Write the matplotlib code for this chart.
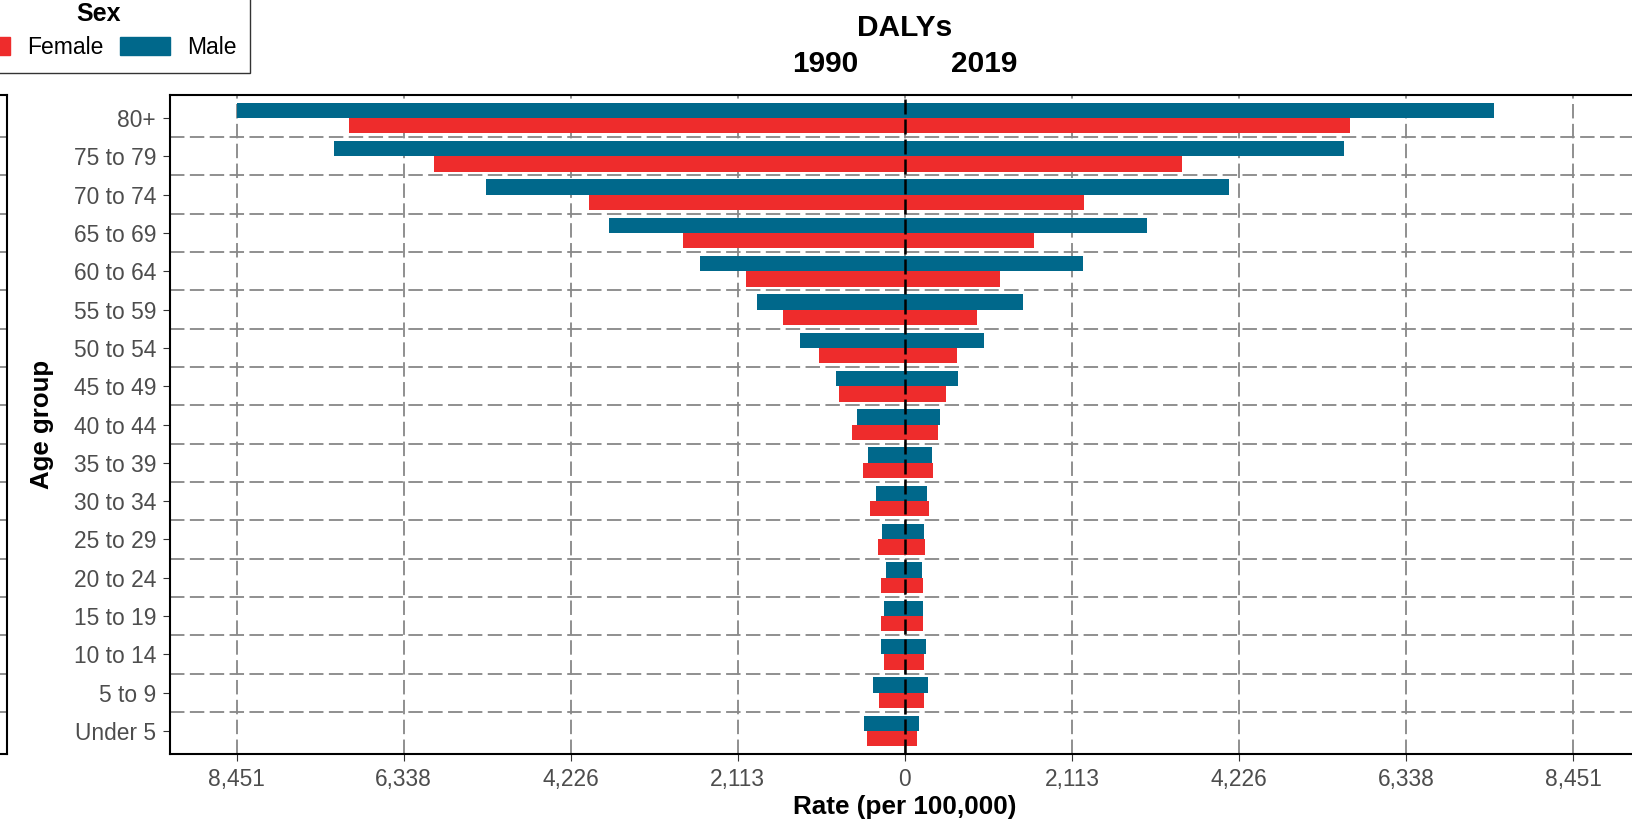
import numpy as np
import matplotlib
matplotlib.use("Agg")
import matplotlib.pyplot as plt
from matplotlib.patches import Patch

plt.rcParams['font.family'] = ['Liberation Sans', 'DejaVu Sans']

# age groups, bottom to top
age_groups = ["Under 5", "5 to 9", "10 to 14", "15 to 19", "20 to 24", "25 to 29",
              "30 to 34", "35 to 39", "40 to 44", "45 to 49", "50 to 54", "55 to 59",
              "60 to 64", "65 to 69", "70 to 74", "75 to 79", "80+"]

# DALYs rate per 100,000
male_1990 = [519, 405, 304, 266, 240, 291, 367, 468, 607, 873, 1328, 1872,
             2590, 3741, 5300, 7221, 8451]
female_1990 = [481, 329, 266, 304, 304, 342, 443, 531, 670, 835, 1088, 1543,
               2011, 2804, 3998, 5959, 7033]
male_2019 = [177, 291, 266, 228, 215, 240, 278, 342, 443, 670, 999, 1493,
             2251, 3061, 4098, 5553, 7450]
female_2019 = [152, 240, 240, 228, 228, 253, 304, 354, 417, 519, 658, 911,
               1202, 1632, 2264, 3504, 5629]

tick_vals = [-8451, -6338, -4226, -2113, 0, 2113, 4226, 6338, 8451]
tick_labels = ["8,451", "6,338", "4,226", "2,113", "0", "2,113", "4,226", "6,338", "8,451"]

male_col = "#00688B"
female_col = "#EE2C2C"
grid_col = "#878787"

W, H = 1633, 826
fig = plt.figure(figsize=(W / 100, H / 100), dpi=100)

ax = fig.add_axes([169.9 / W, 72 / H, 1470 / W, 659 / H])
y = np.arange(1, len(age_groups) + 1)

ax.barh(y + 0.2, -np.array(male_1990), height=0.4, color=male_col, zorder=3)
ax.barh(y + 0.2, male_2019, height=0.4, color=male_col, zorder=3)
ax.barh(y - 0.2, -np.array(female_1990), height=0.4, color=female_col, zorder=3)
ax.barh(y - 0.2, female_2019, height=0.4, color=female_col, zorder=3)

ax.axvline(0, color="black", lw=1.8, dashes=(6, 2), zorder=4)

ax.set_xlim(-9296, 9296)
ax.set_ylim(0.4, len(age_groups) + 0.6)

ax.set_xticks(tick_vals)
ax.set_xticklabels(tick_labels)
ax.set_yticks(y)
ax.set_yticklabels(age_groups)
ax.set_yticks(y[:-1] + 0.5, minor=True)
ax.tick_params(axis="both", which="major", length=5, width=0.8, color="#333333",
               labelcolor="#4d4d4d", labelsize=16.4, pad=5)
ax.tick_params(axis="y", which="minor", length=0)

ax.grid(axis="x", which="major", color=grid_col, lw=1.3, dashes=(8, 3), zorder=1)
ax.grid(axis="y", which="minor", color=grid_col, lw=1.3, dashes=(8, 3), zorder=1)
ax.set_axisbelow(True)
for s in ax.spines.values():
    s.set_linewidth(1.5)
    s.set_color("black")

ax.set_xlabel("Rate (per 100,000)", fontsize=18.8, fontweight="bold")
ax.xaxis.set_label_coords((905 - 169.9) / 1470, -0.0804)
ax.xaxis.label.set_va("center")
ax.set_ylabel("Age group", fontsize=18.6, fontweight="bold")
ax.yaxis.set_label_coords((42 - 169.9) / 1470, 0.5)
ax.yaxis.label.set_va("center")

# leftover panel cut at left edge
ax0 = fig.add_axes([-0.2, 72 / H, 0.2 + 7.3 / W, 659 / H])
ax0.set_ylim(0.4, len(age_groups) + 0.6)
ax0.set_yticks(y[:-1] + 0.5, minor=True)
ax0.set_yticks([])
ax0.set_xticks([])
ax0.grid(axis="y", which="minor", color=grid_col, lw=1.3, dashes=(8, 3))
for s in ax0.spines.values():
    s.set_linewidth(1.5)

# titles
fig.text(905 / W, 1 - 28.5 / H, "DALYs", ha="center", va="center",
         fontsize=21.5, fontweight="bold")
fig.text(825 / W, 1 - 64 / H, "1990", ha="center", va="center",
         fontsize=21.5, fontweight="bold")
fig.text(984.5 / W, 1 - 64 / H, "2019", ha="center", va="center",
         fontsize=21.5, fontweight="bold")

handles = [Patch(color=female_col, label="Female"), Patch(color=male_col, label="Male")]
leg = fig.legend(handles=handles, loc="lower right", ncol=2,
                 bbox_to_anchor=(250 / W, 1 - 72.7 / H), title="Sex",
                 fontsize=16.5, title_fontproperties={"weight": "bold", "size": 18},
                 frameon=True, fancybox=False, edgecolor="black",
                 handlelength=2.18, handleheight=0.85, handletextpad=0.73,
                 columnspacing=0.74, borderpad=0.6, labelspacing=0.45,
                 borderaxespad=0)
leg.get_frame().set_linewidth(1.0)

fig.savefig("out.png", dpi=100, facecolor="white")
